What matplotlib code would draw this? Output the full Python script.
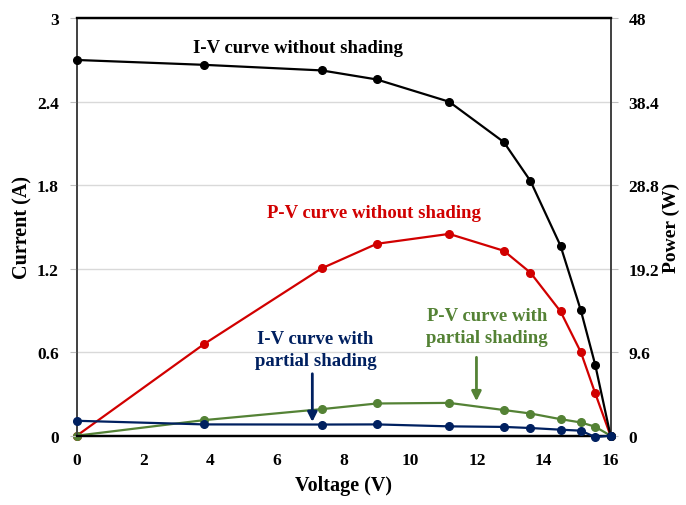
# I-V and P-V curves of a PV module, with and without partial shading
import matplotlib.pyplot as plt

plt.rcParams['font.family'] = ['Liberation Serif', 'DejaVu Serif']
plt.rcParams['font.weight'] = 'bold'

# measured points (voltage shared by all curves)
voltage = [0, 3.82, 7.34, 8.99, 11.16, 12.8, 13.6, 14.5, 15.11, 15.54, 16.0]
current_no_shade = [2.70, 2.665, 2.625, 2.56, 2.40, 2.11, 1.83, 1.365, 0.90, 0.51, 0.0]
power_no_shade = [0, 10.55, 19.24, 22.06, 23.2, 21.26, 18.74, 14.29, 9.6, 4.88, 0]
current_shade = [0.107, 0.081, 0.08, 0.081, 0.067, 0.063, 0.055, 0.043, 0.036, -0.01, 0.0]
power_shade = [0, 1.79, 3.05, 3.70, 3.77, 2.95, 2.55, 1.90, 1.52, 1.03, 0]

x_ticks = [0, 2, 4, 6, 8, 10, 12, 14, 16]
i_ticks = [0, 0.6, 1.2, 1.8, 2.4, 3]
p_ticks = [0, 9.6, 19.2, 28.8, 38.4, 48]
i_labels = ['0', '0.6', '1.2', '1.8', '2.4', '3']
p_labels = ['0', '9.6', '19.2', '28.8', '38.4', '48']

black = '#000000'
red = '#D10000'
navy = '#002060'
green = '#548235'

fig, ax1 = plt.subplots(figsize=(6.86, 5.06), dpi=100)
fig.subplots_adjust(left=0.112, right=0.890, bottom=0.137, top=0.962)
ax2 = ax1.twinx()

# current axis drawn on top, power axis (with the grid) underneath
ax1.set_zorder(ax2.get_zorder() + 1)
ax1.patch.set_visible(False)

ax1.plot(voltage, current_no_shade, color=black, lw=1.6, marker='o', ms=5.5, clip_on=False, zorder=5)
ax1.plot(voltage, current_shade, color=navy, lw=1.6, marker='o', ms=5.5, clip_on=False, zorder=5)
ax2.plot(voltage, power_no_shade, color=red, lw=1.6, marker='o', ms=5.5, clip_on=False, zorder=5)
ax2.plot(voltage, power_shade, color=green, lw=1.6, marker='o', ms=5.5, clip_on=False, zorder=5)

ax1.set_xlim(0, 16)
ax1.set_ylim(0, 3)
ax2.set_ylim(0, 48)
ax1.set_xticks(x_ticks)
ax1.set_yticks(i_ticks)
ax1.set_yticklabels(i_labels)
ax2.set_yticks(p_ticks)
ax2.set_yticklabels(p_labels)

ax1.grid(False)
ax2.grid(True, axis='y', color='#D9D9D9', lw=1)
ax2.xaxis.grid(True, color='#D9D9D9', lw=1)
ax2.set_axisbelow(True)

ax1.tick_params(axis='x', length=0, pad=12, labelsize=12.5)
ax1.tick_params(axis='y', length=5, color='#BFBFBF', pad=8, labelsize=12.5)
ax2.tick_params(axis='y', length=5, color='#BFBFBF', pad=8, labelsize=12.5)

for ax in (ax1, ax2):
    ax.spines['top'].set_color(black)
    ax.spines['top'].set_linewidth(1.6)
    ax.spines['bottom'].set_color(black)
    ax.spines['bottom'].set_linewidth(1.6)
    ax.spines['left'].set_color('#404040')
    ax.spines['left'].set_linewidth(1.2)
    ax.spines['right'].set_color('#404040')
    ax.spines['right'].set_linewidth(1.2)

ax1.set_xlabel('Voltage (V)', fontsize=14.5, fontweight='bold', labelpad=5)
ax1.set_ylabel('Current (A)', fontsize=14.5, fontweight='bold', labelpad=3)
ax2.set_ylabel('Power (W)', fontsize=14, fontweight='bold', labelpad=2)

ax1.text(6.62, 2.79, 'I-V curve without shading', color=black, fontsize=13.5,
         fontweight='bold', ha='center', va='center', zorder=6)
ax1.text(8.92, 1.606, 'P-V curve without shading', color=red, fontsize=13.5,
         fontweight='bold', ha='center', va='center', zorder=6)
ax1.text(7.16, 0.62, 'I-V curve with\npartial shading', color=navy, fontsize=13.5,
         fontweight='bold', ha='center', va='center', linespacing=1.4, zorder=6)
ax1.text(12.3, 0.785, 'P-V curve with\npartial shading', color=green, fontsize=13.5,
         fontweight='bold', ha='center', va='center', linespacing=1.4, zorder=6)

ax1.annotate('', xy=(7.06, 0.079), xytext=(7.06, 0.465),
             arrowprops=dict(arrowstyle='-|>', color=navy, lw=2, mutation_scale=14), zorder=6)
ax1.annotate('', xy=(11.98, 0.228), xytext=(11.98, 0.583),
             arrowprops=dict(arrowstyle='-|>', color=green, lw=2, mutation_scale=14), zorder=6)

plt.savefig('out.png', dpi=100)
